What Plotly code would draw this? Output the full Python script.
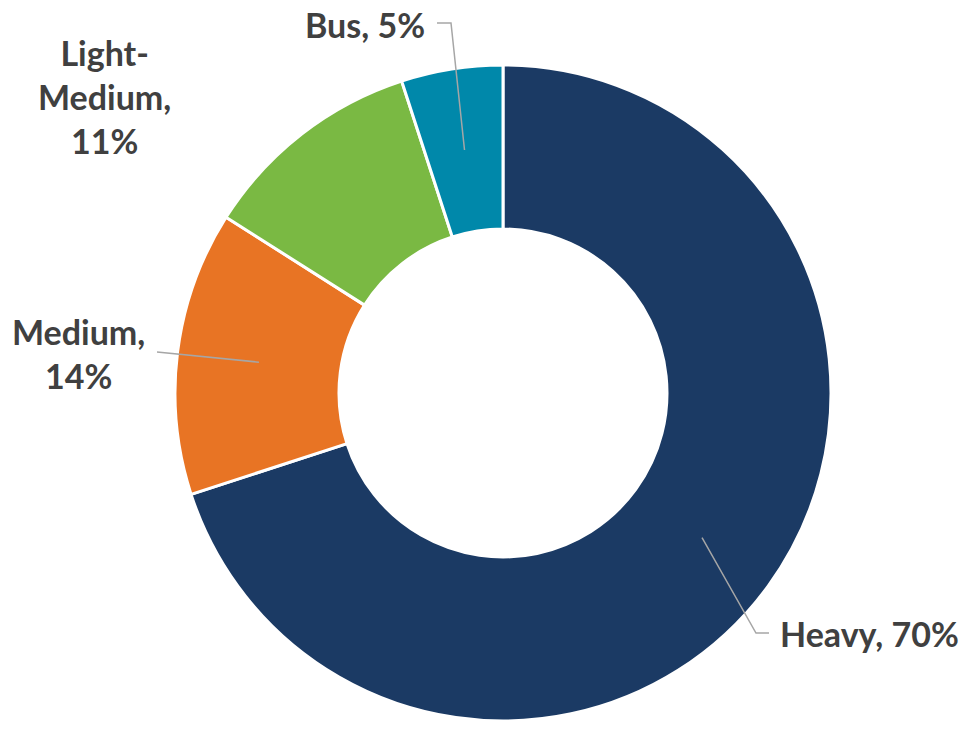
import math
import plotly.graph_objects as go

# ---- data ----
categories = ["Heavy", "Medium", "Light-Medium", "Bus"]
values = [70, 14, 11, 5]
label_texts = ["Heavy, 70%", "Medium,<br>14%", "Light-<br>Medium,<br>11%", "Bus, 5%"]
colors = ["#1B3A64", "#E87424", "#7AB943", "#0088AA"]

# ---- layout constants (pixels) ----
W, H = 966, 750
CX, CY, R_OUT = 503, 393, 328
HOLE = 0.5
R_MID = R_OUT * (1 + HOLE) / 2

# label placement: (text x, text y, xanchor, align, leader points after start)
label_layout = {
    "Heavy": dict(x=778, y=633, xanchor="left", align="left",
                  leader=[(756, 633), (769, 633)]),
    "Medium": dict(x=78, y=353, xanchor="center", align="center",
                   leader=[(157, 352)]),
    "Light-Medium": dict(x=104, y=96, xanchor="center", align="center",
                         leader=None),
    "Bus": dict(x=427, y=24, xanchor="right", align="right",
                leader=[(451, 23), (437, 23)]),
}

def px(x):
    return x / W

def py(y):
    return 1 - y / H

fig = go.Figure(go.Pie(
    labels=categories,
    values=values,
    hole=HOLE,
    sort=False,
    direction="clockwise",
    rotation=0,
    marker=dict(colors=colors, line=dict(color="white", width=3)),
    textinfo="none",
    hoverinfo="label+percent",
    showlegend=False,
    domain=dict(x=[px(CX - R_OUT), px(CX + R_OUT)],
                y=[py(CY + R_OUT), py(CY - R_OUT)]),
))

shapes = []
annotations = []
total = sum(values)
cum = 0
for cat, val, txt in zip(categories, values, label_texts):
    mid = (cum + val / 2) / total * 2 * math.pi  # clockwise from top
    cum += val
    sx = CX + R_MID * math.sin(mid)
    sy = CY - R_MID * math.cos(mid)
    lay = label_layout[cat]
    if lay["leader"]:
        pts = [(sx, sy)] + lay["leader"]
        path = "M " + " L ".join(f"{px(a):.5f},{py(b):.5f}" for a, b in pts)
        shapes.append(dict(type="path", xref="paper", yref="paper", path=path,
                           line=dict(color="#A6A6A6", width=1.5)))
    annotations.append(dict(
        text=f"<b>{txt}</b>", x=px(lay["x"]), y=py(lay["y"]),
        xref="paper", yref="paper", xanchor=lay["xanchor"], yanchor="middle",
        align=lay["align"], showarrow=False,
        font=dict(family="Lato", size=34, color="#404040"),
    ))

fig.update_layout(
    width=W, height=H,
    margin=dict(l=0, r=0, t=0, b=0),
    paper_bgcolor="white",
    plot_bgcolor="white",
    shapes=shapes,
    annotations=annotations,
)

fig.write_html("out.html",
               config={"displayModeBar": False},
               post_script="document.body.style.margin='0';document.body.style.overflow='hidden';")
